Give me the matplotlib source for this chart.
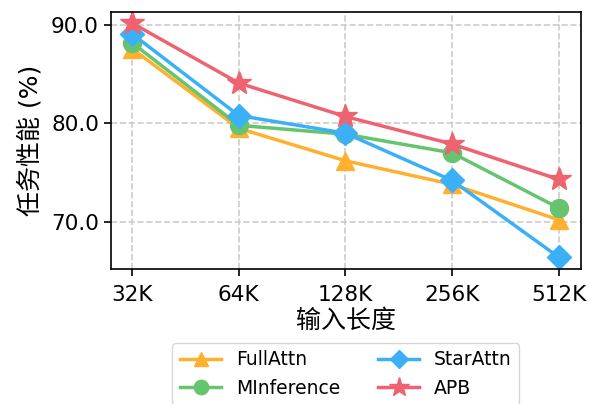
import matplotlib.pyplot as plt

plt.rcParams['font.family'] = ['DejaVu Sans', 'Noto Sans CJK SC']

lengths = ["32K", "64K", "128K", "256K", "512K"]
full_attn = [87.6, 79.5, 76.2, 73.8, 70.2]
minference = [88.2, 79.8, 78.9, 77.0, 71.4]
star_attn = [89.1, 80.8, 79.0, 74.2, 66.4]
apb = [90.2, 84.1, 80.7, 77.9, 74.3]

fig, ax = plt.subplots(figsize=(5.9, 4.04), dpi=100)
fig.subplots_adjust(left=0.1876, right=0.985, top=0.971, bottom=0.334)

x = range(len(lengths))
ax.plot(x, full_attn, color='#FFB02E', marker='^', markersize=13, lw=2.5, label='FullAttn')
ax.plot(x, minference, color='#66C46E', marker='o', markersize=13, lw=2.5, label='MInference')
ax.plot(x, star_attn, color='#3BB0F7', marker='D', markersize=12, lw=2.5, label='StarAttn')
ax.plot(x, apb, color='#EE636F', marker='*', markersize=18, lw=2.5, label='APB')

ax.set_xticks(list(x))
ax.set_xticklabels(lengths)
ax.set_yticks([70, 80, 90])
ax.set_yticklabels(["70.0", "80.0", "90.0"])
ax.set_xlim(-0.2, 4.21)
ax.set_ylim(65.19, 91.35)
ax.tick_params(labelsize=15.5, length=5, width=1.2)
ax.tick_params(axis='x', pad=6.5)
for s in ax.spines.values():
    s.set_linewidth(1.2)
ax.grid(True, ls='--', color='#cccccc', lw=1.2)
ax.set_xlabel('输入长度', fontsize=18, labelpad=3)
ax.set_ylabel('任务性能 (%)', fontsize=18, labelpad=6)

ax.legend(loc='upper center', bbox_to_anchor=(0.5, -0.25), ncol=2, fontsize=13.5,
          handlelength=2.2, columnspacing=2.0, markerscale=0.8, frameon=True)

fig.savefig('out.png')
